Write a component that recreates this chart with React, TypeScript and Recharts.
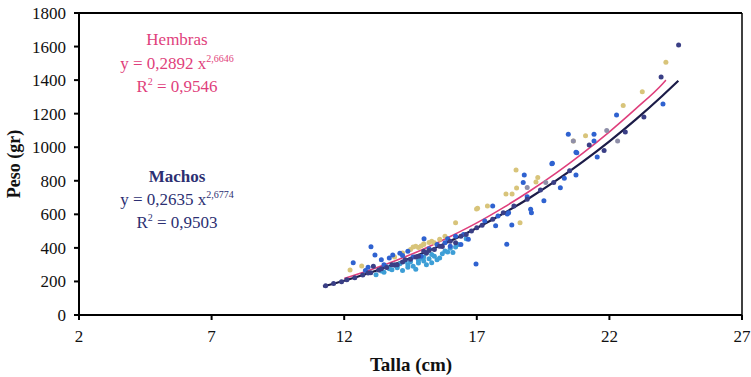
import { ComposedChart, Line, ReferenceLine, Scatter, XAxis, YAxis } from "recharts";

const X_TICKS = [2, 7, 12, 17, 22, 27];
const Y_TICKS = [0, 200, 400, 600, 800, 1000, 1200, 1400, 1600, 1800];

// fitted curves
const machosX = [11.2, 12, 13, 14, 15, 16, 17, 18, 19, 20, 21, 22, 23, 24, 24.6];
const machosY = [170, 204, 253, 309, 371, 441, 519, 605, 699, 802, 914, 1035, 1166, 1307, 1396];
const hembrasX = [12, 13, 14, 15, 16, 17, 18, 19, 20, 21, 22, 23, 24, 24.13];
const hembrasY = [217, 269, 328, 394, 468, 549, 640, 739, 847, 965, 1092, 1230, 1377, 1400];

// scatter points, by marker colour
const blueX = [20.45, 21.42, 20.74, 19.85, 18.79, 18.75, 20.15, 20.74, 19.53, 19.03, 19.06, 17.6, 17.71, 18.32, 18.13, 16.97, 16.68, 15.01, 24.02, 22.27, 21.42, 20.77, 21.54, 19.83, 12.34, 13.01, 13.16, 13.83, 14.1, 14.6, 15.5, 16.2, 15.8, 14.9, 13.5, 12.8, 17.3, 18.2, 18.9, 16.5, 17.8, 20.3, 18.15, 16.0, 15.2, 14.4, 13.4, 13.7, 12.9, 14.2, 15.9, 16.4];
const blueY = [1077, 1077, 970, 904, 834, 789, 759, 834, 681, 630, 610, 650, 532, 536, 421, 304, 451, 455, 1258, 1192, 1037, 967, 942, 902, 312, 407, 358, 358, 368, 345, 420, 470, 430, 350, 300, 265, 560, 610, 705, 480, 590, 815, 602, 410, 395, 380, 330, 340, 285, 355, 455, 420];
const lightX = [13.2, 13.5, 13.8, 14.0, 14.2, 14.4, 14.6, 14.8, 15.0, 15.2, 15.4, 15.6, 14.3, 13.9, 15.8, 16.0, 16.3, 14.7, 15.1, 13.6, 14.5, 15.3, 15.7, 14.9, 14.1, 16.1, 15.5, 13.4, 16.6, 13.7, 14.0, 14.4, 14.8, 15.0, 15.3, 15.9, 16.2];
const lightY = [240, 255, 270, 282, 265, 300, 290, 310, 322, 335, 350, 340, 320, 298, 382, 398, 420, 272, 300, 288, 318, 312, 365, 338, 305, 372, 330, 262, 455, 275, 295, 285, 325, 345, 360, 375, 405];
const tanX = [14.5, 14.8, 15.0, 15.3, 15.6, 14.2, 13.9, 12.22, 12.66, 17.03, 17.4, 18.1, 18.33, 18.48, 18.63, 19.23, 21.1, 20.64, 22.52, 23.24, 24.13, 16.2, 16.99, 18.5, 19.3, 15.8, 14.7, 15.2, 14.6, 15.0, 15.4, 14.9];
const tanY = [390, 402, 420, 440, 452, 370, 345, 268, 292, 636, 650, 721, 721, 864, 550, 793, 1069, 1037, 1248, 1331, 1506, 550, 632, 757, 820, 470, 410, 432, 405, 425, 430, 412];
const navyX = [11.3, 11.6, 11.9, 12.1, 12.4, 12.7, 13.0, 13.3, 13.6, 13.9, 14.2, 14.5, 14.8, 15.1, 15.4, 15.7, 16.0, 16.4, 16.8, 17.2, 17.6, 18.0, 18.4, 18.9, 19.4, 19.9, 20.5, 21.24, 21.8, 22.6, 23.3, 23.95, 24.61, 13.1, 14.0, 15.0, 16.2, 12.9, 13.4, 13.8, 14.3, 14.7, 15.2, 15.6, 16.6, 17.0];
const navyY = [175, 188, 198, 210, 222, 238, 252, 268, 283, 298, 316, 332, 350, 368, 390, 408, 440, 470, 500, 535, 570, 610, 650, 690, 745, 790, 860, 1013, 980, 1090, 1180, 1419, 1609, 290, 300, 380, 430, 250, 275, 300, 330, 345, 385, 410, 480, 520];
const greyX = [22.31, 20.64, 21.9, 18.9, 19.6];
const greyY = [1037, 1037, 1100, 760, 790];

const toPoints = (xs: number[], ys: number[]) => xs.map((x, i) => ({ x, y: ys[i] }));

const dot = (color: string, r = 2.5) => (props: any) =>
  <circle cx={props.cx} cy={props.cy} r={r} fill={color} />;

const FONT = "'Liberation Serif', 'Times New Roman', serif";
const PINK = "#df3f7c";
const NAVY = "#2c2f72";

const Sup = ({ children }: { children: string }) => (
  <span style={{ fontSize: 10, position: "relative", top: -7, lineHeight: 0 }}>{children}</span>
);

export default function App() {
  return (
    <div style={{ position: "absolute", left: 0, top: 0, width: 751, height: 377, background: "#fff", fontFamily: FONT }}>
      <ComposedChart width={751} height={377} margin={{ top: 13, right: 9, bottom: 0, left: 0 }}>
        <XAxis
          type="number"
          dataKey="x"
          domain={[2, 27]}
          ticks={X_TICKS}
          allowDataOverflow
          stroke="#000"
          strokeWidth={2}
          tickSize={5}
          tickMargin={10}
          height={62}
          tick={{ fill: "#111", fontSize: 17, fontFamily: FONT }}
          label={{
            content: () => (
              <text x={411} y={371} textAnchor="middle" fontFamily={FONT} fontWeight="bold" fontSize={19} fill="#111">
                Talla (cm)
              </text>
            ),
          }}
        />
        <YAxis
          type="number"
          domain={[0, 1800]}
          ticks={Y_TICKS}
          allowDataOverflow
          width={79}
          stroke="#000"
          strokeWidth={2}
          tickSize={5}
          tickMargin={8}
          tick={{ fill: "#111", fontSize: 17, fontFamily: FONT }}
          label={{
            content: () => (
              <text x={20} y={164} transform="rotate(-90 20 164)" textAnchor="middle" fontFamily={FONT} fontWeight="bold" fontSize={18} fill="#111">
                Peso (gr)
              </text>
            ),
          }}
        />
        <ReferenceLine x={27} stroke="#000" strokeWidth={1.5} ifOverflow="visible" />
        <ReferenceLine
          segment={[{ x: 2, y: 1800 }, { x: 27, y: 1800 }]}
          stroke="#000"
          strokeWidth={2}
          ifOverflow="visible"
        />
        <Scatter data={toPoints(tanX, tanY)} dataKey="y" shape={dot("#d8c47a")} isAnimationActive={false} />
        <Scatter data={toPoints(greyX, greyY)} dataKey="y" shape={dot("#8f8fa8")} isAnimationActive={false} />
        <Scatter data={toPoints(lightX, lightY)} dataKey="y" shape={dot("#3d9ed6")} isAnimationActive={false} />
        <Scatter data={toPoints(blueX, blueY)} dataKey="y" shape={dot("#2f62d0")} isAnimationActive={false} />
        <Scatter data={toPoints(navyX, navyY)} dataKey="y" shape={dot("#3a3f86")} isAnimationActive={false} />
        <Line data={toPoints(hembrasX, hembrasY)} dataKey="y" type="monotone" stroke={PINK} strokeWidth={1.6} dot={false} isAnimationActive={false} />
        <Line data={toPoints(machosX, machosY)} dataKey="y" type="monotone" stroke="#1c1c48" strokeWidth={2.2} dot={false} isAnimationActive={false} />
      </ComposedChart>

      <div style={{ position: "absolute", left: 77, width: 200, top: 28, textAlign: "center", color: PINK, fontSize: 17, lineHeight: "23.5px" }}>
        <div>Hembras</div>
        <div>y = 0,2892 x<Sup>2,6646</Sup></div>
        <div>R<Sup>2</Sup> = 0,9546</div>
      </div>
      <div style={{ position: "absolute", left: 77, width: 200, top: 165, textAlign: "center", color: NAVY, fontSize: 17, lineHeight: "23px" }}>
        <div style={{ fontWeight: "bold" }}>Machos</div>
        <div>y = 0,2635 x<Sup>2,6774</Sup></div>
        <div>R<Sup>2</Sup> = 0,9503</div>
      </div>
    </div>
  );
}
